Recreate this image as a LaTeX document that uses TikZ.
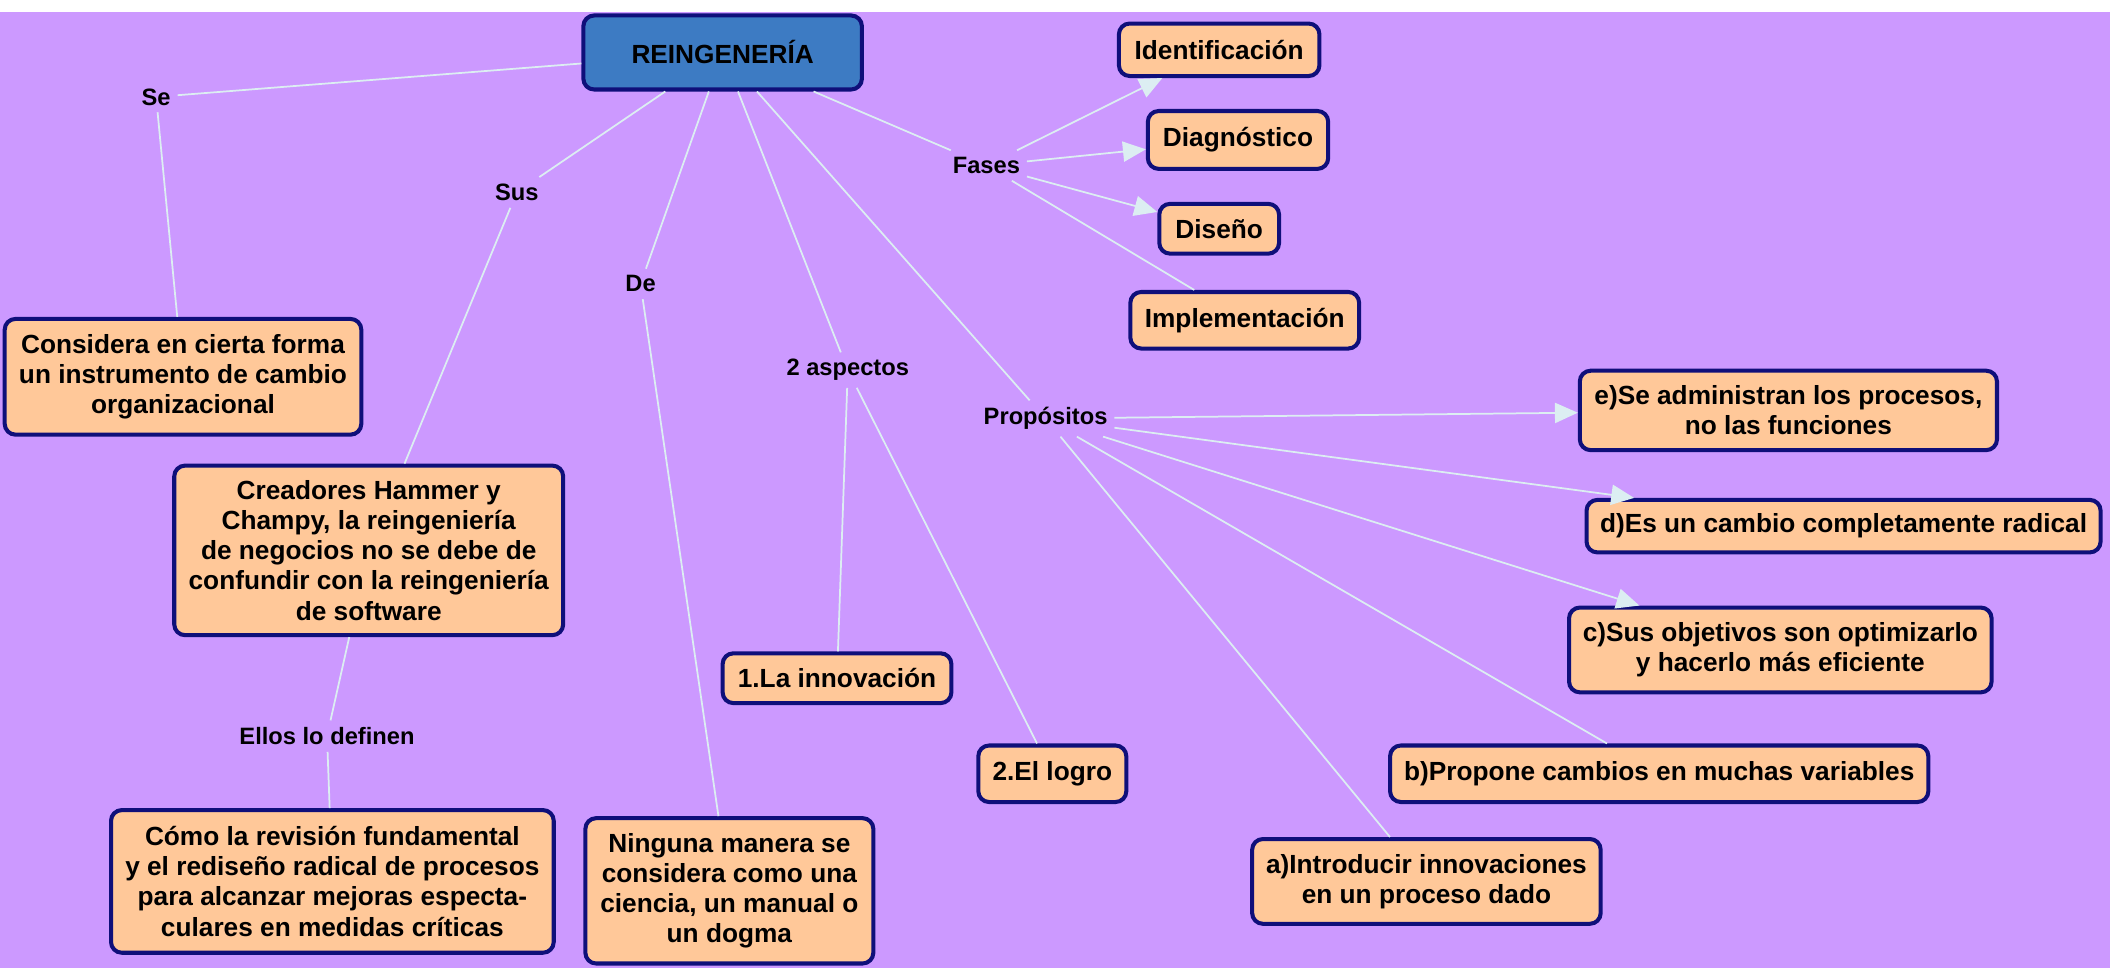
\documentclass[tikz,border=0pt]{standalone}
\usepackage{fontspec}
\setmainfont{Liberation Sans}
\usetikzlibrary{arrows.meta}
\definecolor{fondo}{HTML}{CC99FF}
\definecolor{caja}{HTML}{FFC899}
\definecolor{borde}{HTML}{0F0F7A}
\definecolor{azul}{HTML}{3D7BC3}
\definecolor{enlace}{HTML}{DCEEF2}

\begin{document}
\begin{tikzpicture}[x=1pt,y=-1pt]
        \useasboundingbox (0,0) rectangle (1568,719);
        \fill[fondo] (0,9) rectangle (1568,719);
        \begin{scope}[every node/.style={fill=caja,draw=borde,line width=3pt,rounded corners=8pt,align=center,inner sep=0pt,font=\bfseries\fontsize{19.5}{22.4}\selectfont}]
            \node[fill=azul,minimum width=207pt,minimum height=55pt] (1) at (537,39) {REINGENERÍA};

            \node[minimum width=265pt,minimum height=86pt] (3) at (136,280) {Considera en cierta forma\\un instrumento de cambio\\organizacional};
            \node[minimum width=289pt,minimum height=126pt] (5) at (274,409) {Creadores Hammer y\\Champy, la reingeniería\\de negocios no se debe de\\confundir con la reingeniería\\de software};
            \node[minimum width=329pt,minimum height=106pt] (7) at (247,655) {Cómo la revisión fundamental\\y el rediseño radical de procesos\\para alcanzar mejoras especta-\\culares en medidas críticas};
            \node[minimum width=214pt,minimum height=108pt] (9) at (542,662) {Ninguna manera se\\considera como una\\ciencia, un manual o\\un dogma};

            \node[minimum width=170pt,minimum height=37pt] (11) at (622,504) {1.La innovación};
            \node[minimum width=110pt,minimum height=42pt] (12) at (782,575) {2.El logro};

            \node[minimum width=149pt,minimum height=39pt] (14) at (906,37) {Identificación};
            \node[minimum width=134pt,minimum height=43pt] (15) at (920,104) {Diagnóstico};
            \node[minimum width=89pt,minimum height=37pt] (16) at (906,170) {Diseño};
            \node[minimum width=170pt,minimum height=42pt] (17) at (925,238) {Implementación};

            \node[minimum width=310pt,minimum height=59pt] (19) at (1329,305) {e)Se administran los procesos,\\no las funciones};
            \node[minimum width=382pt,minimum height=39pt] (20) at (1370,391) {d)Es un cambio completamente radical};
            \node[minimum width=314pt,minimum height=63pt] (21) at (1323,483) {c)Sus objetivos son optimizarlo\\y hacerlo más eficiente};
            \node[minimum width=400pt,minimum height=42pt] (22) at (1233,575) {b)Propone cambios en muchas variables};
            \node[minimum width=259pt,minimum height=63pt] (23) at (1060,655) {a)Introducir innovaciones\\en un proceso dado};
        \end{scope}
        \begin{scope}[every node/.style={inner sep=5pt,font=\bfseries\fontsize{17.6}{20}\selectfont}]
            \node (2) at (116,72) {Se};
            \node (4) at (384,143) {Sus};
            \node (6) at (243,547) {Ellos lo definen};
            \node (8) at (476,211) {De};
            \node (10) at (630,275) {2 aspectos};
            \node (13) at (733,123) {Fases};
            \node (18) at (777,311) {Propósitos};
        \end{scope}
        \begin{scope}[every edge/.style={draw=enlace,line width=1.3pt}]
            \path [-] (1) edge (2);
            \path [-] (2) edge (3);
            \path [-] (1) edge (4);
            \path [-] (4) edge (5);
            \path [-] (5) edge (6);
            \path [-] (6) edge (7);
            \path [-] (1) edge (8);
            \path [-] (8) edge (9);
            \path [-] (1) edge (10);
            \path [-] (10) edge (11);
            \path [-] (10) edge (12);
            \path [-] (1) edge (13);
            \path [-] (1) edge (18);

            \path [-{Triangle[length=17pt,width=15pt]}] (13) edge (14);
            \path [-{Triangle[length=17pt,width=15pt]}] (13) edge (15);
            \path [-{Triangle[length=17pt,width=15pt]}] (13) edge (16);
            \path [-] (13) edge (17);

            \path [-{Triangle[length=17pt,width=15pt]}] (18) edge (19);
            \path [-{Triangle[length=17pt,width=15pt]}] (18) edge (20);
            \path [-{Triangle[length=17pt,width=15pt]}] (18) edge (21);
            \path [-] (18) edge (22);
            \path [-] (18) edge (23);
        \end{scope}
    \end{tikzpicture}
\end{document}
